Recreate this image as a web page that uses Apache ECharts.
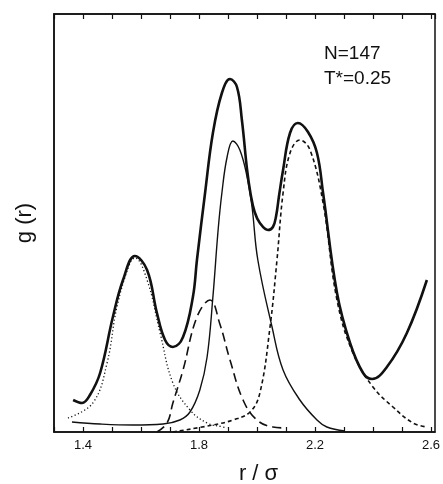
<!DOCTYPE html>
<html>
<head>
<meta charset="utf-8">
<script src="https://cdn.jsdelivr.net/npm/echarts@6/dist/echarts.min.js"></script>
<style>html,body{margin:0;padding:0;background:#fff;}#c{width:443px;height:484px;}</style>
</head>
<body>
<div id="c"></div>
<script>
// r/sigma values and g(r) values (arbitrary units)
const totalR = [1.366,1.397,1.424,1.459,1.503,1.538,1.579,1.621,1.655,1.683,1.710,1.745,1.779,1.793,1.821,1.848,1.879,1.907,1.931,1.948,1.966,1.978,1.992,2.010,2.038,2.055,2.066,2.076,2.090,2.114,2.141,2.176,2.207,2.228,2.276,2.321,2.366,2.397,2.448,2.517,2.586];
const totalG = [0.32,0.29,0.37,0.59,1.15,1.52,1.76,1.62,1.19,0.92,0.85,0.95,1.35,1.72,2.39,2.99,3.39,3.53,3.45,3.12,2.62,2.38,2.20,2.09,2.02,2.05,2.16,2.36,2.62,2.99,3.09,3.00,2.79,2.39,1.39,0.89,0.59,0.53,0.65,0.99,1.52];

const peak1R = [1.348,1.434,1.483,1.517,1.562,1.579,1.621,1.666,1.710,1.769,1.828,1.883,1.897];
const peak1G = [0.14,0.29,0.69,1.25,1.69,1.74,1.52,0.99,0.49,0.22,0.09,0.05,0.04];

const peak2R = [1.362,1.459,1.572,1.676,1.734,1.769,1.803,1.828,1.848,1.866,1.879,1.897,1.917,1.941,1.966,1.983,2.003,2.052,2.090,2.148,2.207,2.241,2.303];
const peak2G = [0.10,0.08,0.07,0.08,0.12,0.20,0.42,0.75,1.35,2.02,2.39,2.75,2.91,2.82,2.55,2.25,1.72,1.05,0.62,0.32,0.12,0.05,0.01];

const peak3R = [1.655,1.690,1.710,1.745,1.793,1.838,1.872,1.907,1.952,2.000,2.055,2.103];
const peak3G = [0.00,0.09,0.29,0.62,1.15,1.32,1.08,0.72,0.32,0.12,0.05,0.04];

const peak4R = [1.710,1.848,1.917,1.976,2.010,2.045,2.069,2.090,2.114,2.148,2.183,2.228,2.276,2.331,2.400,2.469,2.538,2.586];
const peak4G = [0.00,0.07,0.12,0.20,0.39,1.05,1.72,2.39,2.79,2.92,2.82,2.29,1.32,0.79,0.45,0.25,0.09,0.05];

const xLabels = ['1.4','1.8','2.2','2.6'];
const noteLines = ['N=147', 'T*=0.25'];

function pairs(xs, ys){ return xs.map((x,i)=>[x, ys[i]]); }

const chart = echarts.init(document.getElementById('c'), null, {renderer:'canvas'});
const FONT = 'Liberation Sans, Arial, sans-serif';
const ink = '#111';

function fmt(v){
  const t = v*10;
  if (Math.abs(t - Math.round(t)) > 1e-6) return '';
  const s = (Math.round(t)/10).toFixed(1);
  return xLabels.indexOf(s) >= 0 ? s : '';
}

const baseX = {
  type:'value', min:1.3, max:2.614, interval:0.1,
  axisLine:{show:true, lineStyle:{color:ink, width:1.5}},
  axisTick:{show:true, inside:true, length:5, lineStyle:{color:ink, width:1.2}},
  splitLine:{show:false}
};

chart.setOption({
  animation:false,
  backgroundColor:'#fff',
  grid:{left:54, right:8, top:14, bottom:52, containLabel:false, outerBoundsMode:'none',
        show:true, borderColor:ink, borderWidth:1.5, backgroundColor:'transparent'},
  xAxis:[
    Object.assign({}, baseX, {
      position:'bottom',
      name:'r / σ', nameLocation:'middle', nameGap:31,
      nameTextStyle:{fontFamily:FONT, fontSize:22, color:ink, padding:[0,0,0,28]},
      axisLabel:{show:true, formatter:fmt, color:ink, fontFamily:FONT, fontSize:13, margin:7, showMaxLabel:false}
    }),
    Object.assign({}, baseX, {
      position:'top',
      axisLabel:{show:false}
    })
  ],
  yAxis:{
    type:'value', min:0, max:4.18,
    name:'g (r)', nameLocation:'middle', nameGap:18, nameRotate:90,
    nameTextStyle:{fontFamily:FONT, fontSize:22, color:ink},
    axisLine:{show:true, lineStyle:{color:ink, width:1.5}},
    axisTick:{show:false}, axisLabel:{show:false}, splitLine:{show:false}
  },
  graphic:[
    {type:'text', left:324, top:44, style:{text:noteLines[0], font:'19px '+FONT, fill:ink}},
    {type:'text', left:324, top:69, style:{text:noteLines[1], font:'19px '+FONT, fill:ink}}
  ],
  series:[
    {type:'line', name:'total', data:pairs(totalR,totalG), smooth:0.4, showSymbol:false,
     lineStyle:{color:ink, width:2.6}, z:5},
    {type:'line', name:'shell1', data:pairs(peak1R,peak1G), smooth:0.4, showSymbol:false,
     lineStyle:{color:ink, width:1.3, type:[1.2,2.4]}},
    {type:'line', name:'shell2', data:pairs(peak2R,peak2G), smooth:0.4, showSymbol:false,
     lineStyle:{color:ink, width:1.4}},
    {type:'line', name:'shell3', data:pairs(peak3R,peak3G), smooth:0.4, showSymbol:false,
     lineStyle:{color:ink, width:1.6, type:[9,5]}},
    {type:'line', name:'shell4', data:pairs(peak4R,peak4G), smooth:0.4, showSymbol:false,
     lineStyle:{color:ink, width:1.6, type:[4,3]}}
  ]
});
</script>
</body>
</html>
